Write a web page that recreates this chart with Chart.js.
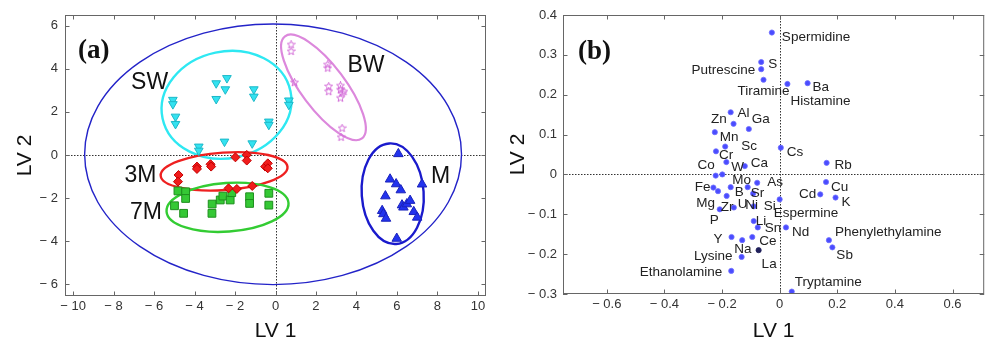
<!DOCTYPE html>
<html>
<head>
<meta charset="utf-8">
<script src="https://cdn.jsdelivr.net/npm/chart.js@4.4.1/dist/chart.umd.min.js"></script>
<style>
  html, body { margin: 0; padding: 0; background: #fff; }
  #wrap { position: relative; width: 989px; height: 349px; }
  #plotA { position: absolute; left: 0; top: 0; }
  #plotB { position: absolute; left: 500px; top: 0; }
</style>
</head>
<body>
<div id="wrap">
  <canvas id="plotA" width="500" height="349" style="width:500px;height:349px"></canvas>
  <canvas id="plotB" width="489" height="349" style="width:489px;height:349px"></canvas>
</div>
<script>
// ---- panel (a): sample scores on LV1 / LV2 ----
const swX = [-2.93, -2.40, -2.48, -2.93, -1.07, -1.07, -5.07, -5.07, -4.94, -4.94, -0.33, -0.33, 0.66, 0.66, -3.79, -3.79, -2.52, -1.15];
const swY = [3.33, 3.57, 3.05, 2.60, 3.05, 2.71, 2.56, 2.36, 1.78, 1.44, 1.55, 1.40, 2.53, 2.33, 0.39, 0.20, 0.62, 0.54];

const bwX = [0.77, 0.77, 0.94, 2.58, 2.58, 2.63, 2.63, 3.21, 3.21, 3.29, 3.21, 3.38, 3.29, 3.24];
const bwY = [5.12, 4.81, 3.36, 4.19, 4.03, 3.18, 2.94, 3.21, 3.02, 2.87, 2.64, 2.94, 1.24, 0.82];

const m3X = [-4.79, -4.82, -3.88, -3.88, -3.21, -3.18, -1.98, -1.42, -1.42, -0.51, -0.38, -0.38, -2.32, -1.91, -1.15];
const m3Y = [-0.93, -1.24, -0.54, -0.65, -0.43, -0.54, -0.11, 0.0, -0.26, -0.54, -0.39, -0.62, -1.55, -1.58, -1.44];

const m7X = [-4.82, -4.44, -4.44, -4.99, -4.54, -3.13, -3.14, -2.73, -2.60, -2.24, -2.16, -1.28, -1.28, -0.33, -0.33];
const m7Y = [-1.67, -1.71, -2.02, -2.36, -2.71, -2.28, -2.71, -2.09, -1.91, -2.09, -1.75, -1.94, -2.25, -1.78, -2.33];

const mX = [6.07, 5.66, 5.96, 6.19, 5.43, 7.24, 5.27, 5.33, 5.46, 6.25, 6.32, 6.49, 6.65, 6.83, 7.00, 5.99];
const mY = [0.05, -1.13, -1.35, -1.63, -1.91, -1.36, -2.59, -2.74, -2.95, -2.33, -2.43, -2.28, -2.12, -2.64, -2.90, -3.88];

const ticksA_X = [-10, -8, -6, -4, -2, 0, 2, 4, 6, 8, 10];
const ticksA_Y = [-6, -4, -2, 0, 2, 4, 6];

// ---- panel (b): variable loadings ----
const varNames = ['Spermidine', 'S', 'Putrescine', 'Tiramine', 'Histamine', 'Ba', 'Zn', 'Al', 'Ga', 'Mn',
  'Sc', 'Cr', 'Cs', 'W', 'Ca', 'Rb', 'Co', 'Mo', 'As', 'Fe', 'Mg', 'B', 'Zr', 'Sr', 'Ni', 'Si', 'Espermine',
  'Cu', 'Cd', 'K', 'P', 'U', 'Li', 'Sn', 'Nd', 'Y', 'Ce', 'Na', 'La', 'Lysine', 'Ethanolamine',
  'Phenylethylamine', 'Sb', 'Tryptamine'];
const loadLV1 = [-0.027, -0.064, -0.064, -0.056, 0.027, 0.097, -0.170, -0.160, -0.107, -0.225,
  -0.189, -0.221, 0.004, -0.185, -0.121, 0.163, -0.222, -0.199, -0.078, -0.230, -0.214, -0.170, -0.184, -0.111, -0.092, -0.090, 0.000,
  0.161, 0.141, 0.194, -0.208, -0.159, -0.090, -0.076, 0.022, -0.167, -0.095, -0.130, -0.073, -0.132, -0.168,
  0.171, 0.183, 0.042];
const loadLV2 = [0.356, 0.282, 0.264, 0.2375, 0.227, 0.229, 0.156, 0.127, 0.114, 0.106,
  0.070, 0.058, 0.067, 0.031, 0.021, 0.029, -0.003, 0.000, -0.021, -0.033, -0.042, -0.032, -0.054, -0.032, -0.048, -0.080, -0.0625,
  -0.019, -0.050, -0.058, -0.0875, -0.083, -0.117, -0.133, -0.133, -0.157, -0.157, -0.165, -0.190, -0.207, -0.242,
  -0.165, -0.183, -0.294];
const darkVars = ['La'];

const ticksB_X = [-0.6, -0.4, -0.2, 0, 0.2, 0.4, 0.6];
const ticksB_Y = [-0.3, -0.2, -0.1, 0, 0.1, 0.2, 0.3, 0.4];

// label placement next to each loading point: [dx, dy, align] in pixels
const labelPlace = {
  Spermidine: [10, 5, 'left'], S: [7, 2, 'left'], Putrescine: [-6, 1, 'right'], Tiramine: [0, 12, 'center'],
  Histamine: [3, 17, 'left'], Ba: [5, 4, 'left'], Zn: [-4, 7, 'right'], Al: [4, -11, 'left'], Ga: [3, -10, 'left'],
  Mn: [5, 5, 'left'], Sc: [16, 0, 'left'], Cr: [3, 4, 'left'], Cs: [6, 5, 'left'], W: [5, 5, 'left'],
  Ca: [6, -3, 'left'], Rb: [8, 2, 'left'], Co: [-1, -10, 'right'], Mo: [10, 6, 'left'], As: [10, -1, 'left'],
  Fe: [-3, 0, 'right'], Mg: [-3, 12, 'right'], B: [4, 5, 'left'], Zr: [-6, 11, 'left'], Sr: [3, 6, 'left'],
  Ni: [-8, 12, 'left'], Si: [10, 0, 'left'], Espermine: [-6, 14, 'left'], Cu: [5, 5, 'left'], Cd: [-4, 0, 'right'],
  K: [6, 5, 'left'], P: [-1, 11, 'right'], U: [4, -3, 'left'], Li: [2, 0, 'left'], Sn: [7, 1, 'left'],
  Nd: [6, 5, 'left'], Y: [-9, 2, 'right'], Ce: [7, 4, 'left'], Na: [-8, 9, 'left'], La: [3, 14, 'left'],
  Lysine: [-9, -1, 'right'], Ethanolamine: [-9, 1, 'right'], Phenylethylamine: [6, -8, 'left'], Sb: [4, 8, 'left'],
  Tryptamine: [3, -9, 'left']
};

// group ellipses (centre and radii in axis units, rotation in degrees on screen)
const groupEllipses = [
  { cx: -0.12, cy: 0.03, rx: 9.31, ry: 6.05, rot: 0, color: '#2323c8', lw: 1.4 },
  { cx: -2.42, cy: 2.33, rx: 3.23, ry: 2.48, rot: -12, color: '#2ee8f2', lw: 2.4 },
  { cx: 2.37, cy: 3.14, rx: 3.16, ry: 1.02, rot: 53, color: '#dc88dc', lw: 2.2 },
  { cx: -2.54, cy: -0.76, rx: 3.14, ry: 0.87, rot: -4, color: '#ee2020', lw: 2.4 },
  { cx: -2.37, cy: -2.43, rx: 3.02, ry: 1.13, rot: -4, color: '#33cc33', lw: 2.4 },
  { cx: 5.79, cy: -1.8, rx: 1.53, ry: 2.34, rot: -4, color: '#1a1acc', lw: 2.4 }
];
const groupLabels = [
  { text: 'SW', x: -6.22, y: 3.37 }, { text: 'BW', x: 4.47, y: 4.14 },
  { text: '3M', x: -6.67, y: -0.95 }, { text: '7M', x: -6.4, y: -2.70 }, { text: 'M', x: 8.15, y: -1.02 }
];

const SANS = '"Liberation Sans", Arial, sans-serif';

function toPoints(xs, ys) {
  return xs.map((v, i) => ({ x: v, y: ys[i] }));
}

function fmtTick(v) {
  return v < 0 ? '\u2212 ' + Math.abs(v) : String(v);
}

function starImage(size, color) {
  const c = document.createElement('canvas');
  c.width = c.height = size;
  const g = c.getContext('2d');
  g.strokeStyle = color;
  g.lineWidth = 1;
  g.beginPath();
  for (let i = 0; i < 10; i++) {
    const r = i % 2 ? size * 0.2 : size * 0.46;
    const a = -Math.PI / 2 + i * Math.PI / 5;
    const px = size / 2 + r * Math.cos(a), py = size / 2 + r * Math.sin(a);
    if (i) g.lineTo(px, py); else g.moveTo(px, py);
  }
  g.closePath();
  g.stroke();
  return c;
}

// frame, inward ticks and dotted zero lines, matlab style
const frame = {
  id: 'frame',
  beforeDatasetsDraw(chart) {
    const { ctx, chartArea: a, scales: { x, y } } = chart;
    ctx.save();
    ctx.strokeStyle = '#333';
    ctx.lineWidth = 1;
    ctx.setLineDash([1.5, 1.5]);
    const x0 = Math.round(x.getPixelForValue(0)) + 0.5;
    const y0 = Math.round(y.getPixelForValue(0)) + 0.5;
    ctx.beginPath();
    ctx.moveTo(x0, a.top); ctx.lineTo(x0, a.bottom);
    ctx.moveTo(a.left, y0); ctx.lineTo(a.right, y0);
    ctx.stroke();
    ctx.restore();
  },
  afterDatasetsDraw(chart) {
    const { ctx, chartArea: a, scales: { x, y } } = chart;
    const tl = 4.5;
    ctx.save();
    ctx.strokeStyle = '#666';
    ctx.lineWidth = 1;
    ctx.strokeRect(a.left + 0.5, a.top + 0.5, a.right - a.left - 1, a.bottom - a.top - 1);
    ctx.beginPath();
    x.ticks.forEach(t => {
      const px = Math.round(x.getPixelForValue(t.value)) + 0.5;
      ctx.moveTo(px, a.bottom); ctx.lineTo(px, a.bottom - tl);
      ctx.moveTo(px, a.top); ctx.lineTo(px, a.top + tl);
    });
    y.ticks.forEach(t => {
      const py = Math.round(y.getPixelForValue(t.value)) + 0.5;
      ctx.moveTo(a.left, py); ctx.lineTo(a.left + tl, py);
      ctx.moveTo(a.right, py); ctx.lineTo(a.right - tl, py);
    });
    ctx.stroke();
    ctx.restore();
  }
};

const ellipsesPlugin = {
  id: 'ellipses',
  beforeDatasetsDraw(chart) {
    const { ctx, scales: { x, y } } = chart;
    ctx.save();
    groupEllipses.forEach(e => {
      const cx = x.getPixelForValue(e.cx), cy = y.getPixelForValue(e.cy);
      const rx = Math.abs(x.getPixelForValue(e.cx + e.rx) - cx);
      const ry = Math.abs(y.getPixelForValue(e.cy + e.ry) - cy);
      ctx.strokeStyle = e.color;
      ctx.lineWidth = e.lw;
      ctx.beginPath();
      ctx.ellipse(cx, cy, rx, ry, e.rot * Math.PI / 180, 0, Math.PI * 2);
      ctx.stroke();
    });
    ctx.restore();
  },
  afterDatasetsDraw(chart) {
    const { ctx, chartArea: a, scales: { x, y } } = chart;
    ctx.save();
    ctx.fillStyle = '#111';
    ctx.textAlign = 'center';
    ctx.textBaseline = 'middle';
    ctx.font = '23px ' + SANS;
    groupLabels.forEach(l => ctx.fillText(l.text, x.getPixelForValue(l.x), y.getPixelForValue(l.y)));
    ctx.textAlign = 'left';
    ctx.font = 'bold 27px "Liberation Serif", "DejaVu Serif", serif';
    ctx.fillText('(a)', a.left + 13, 51);
    ctx.restore();
  }
};

const labelsPlugin = {
  id: 'varLabels',
  afterDatasetsDraw(chart) {
    const { ctx, chartArea: a, scales: { x, y } } = chart;
    ctx.save();
    ctx.fillStyle = '#222';
    ctx.textBaseline = 'middle';
    ctx.font = '13.5px ' + SANS;
    varNames.forEach((n, i) => {
      const p = labelPlace[n] || [5, 0, 'left'];
      ctx.textAlign = p[2];
      ctx.fillText(n, x.getPixelForValue(loadLV1[i]) + p[0], y.getPixelForValue(loadLV2[i]) + p[1]);
    });
    ctx.fillStyle = '#111';
    ctx.textAlign = 'left';
    ctx.font = 'bold 27px "Liberation Serif", "DejaVu Serif", serif';
    ctx.fillText('(b)', a.left + 15, 52);
    ctx.restore();
  }
};

function axis(min, max, values, opts) {
  return {
    type: 'linear',
    min: min,
    max: max,
    grid: { display: false, drawTicks: false },
    border: { display: false },
    afterBuildTicks: s => { s.ticks = values.map(v => ({ value: v })); },
    afterFit: opts.fit,
    ticks: {
      padding: opts.pad,
      color: '#333',
      font: { family: SANS, size: 13 },
      maxRotation: 0,
      autoSkip: false,
      callback: v => fmtTick(v)
    },
    title: {
      display: true,
      text: opts.title,
      color: '#111',
      font: { family: SANS, size: 21 },
      padding: opts.titlePad
    }
  };
}

const starPt = starImage(9, '#d36cd8');

new Chart(document.getElementById('plotA'), {
  type: 'scatter',
  data: {
    datasets: [
      { label: 'SW', data: toPoints(swX, swY), pointStyle: 'triangle', rotation: 180, pointRadius: 5,
        backgroundColor: '#33e2f0', borderColor: '#1cb8c8', borderWidth: 1 },
      { label: 'BW', data: toPoints(bwX, bwY), pointStyle: starPt },
      { label: '3M', data: toPoints(m3X, m3Y), pointStyle: 'rectRot', pointRadius: 4.5,
        backgroundColor: '#f01c1c', borderColor: '#c40000', borderWidth: 1 },
      { label: '7M', data: toPoints(m7X, m7Y), pointStyle: 'rect', pointRadius: 5.5,
        backgroundColor: '#35c835', borderColor: '#1e8e1e', borderWidth: 1 },
      { label: 'M', data: toPoints(mX, mY), pointStyle: 'triangle', pointRadius: 5.5,
        backgroundColor: '#2233ee', borderColor: '#1a22bb', borderWidth: 1 }
    ]
  },
  options: {
    responsive: false,
    animation: false,
    layout: { padding: { left: 0, top: 15, right: 14, bottom: 0 } },
    plugins: { legend: { display: false }, tooltip: { enabled: false } },
    scales: {
      x: axis(-10.4, 10.4, ticksA_X, { fit: s => { s.height = 53; }, pad: 3, title: 'LV 1', titlePad: { top: 0, bottom: 5 } }),
      y: axis(-6.55, 6.5, ticksA_Y, { fit: s => { s.width = 65; }, pad: 7, title: 'LV 2', titlePad: { top: 13, bottom: 0 } })
    }
  },
  plugins: [frame, ellipsesPlugin]
});

new Chart(document.getElementById('plotB'), {
  type: 'scatter',
  data: {
    datasets: [{
      label: 'loadings',
      data: toPoints(loadLV1, loadLV2),
      pointRadius: 2.6,
      backgroundColor: varNames.map(n => darkVars.includes(n) ? '#20205a' : '#4a4cff'),
      borderColor: varNames.map(n => darkVars.includes(n) ? '#20205a' : '#7070ff'),
      borderWidth: 0.8
    }]
  },
  options: {
    responsive: false,
    animation: false,
    layout: { padding: { left: 0, top: 15, right: 2, bottom: 0 } },
    plugins: { legend: { display: false }, tooltip: { enabled: false } },
    scales: {
      x: axis(-0.752, 0.71, ticksB_X, { fit: s => { s.height = 55; }, pad: 3, title: 'LV 1', titlePad: { top: 0, bottom: 5 } }),
      y: axis(-0.3, 0.4, ticksB_Y, { fit: s => { s.width = 63; }, pad: 6, title: 'LV 2', titlePad: { top: 6, bottom: 0 } })
    }
  },
  plugins: [frame, labelsPlugin]
});
</script>
</body>
</html>
